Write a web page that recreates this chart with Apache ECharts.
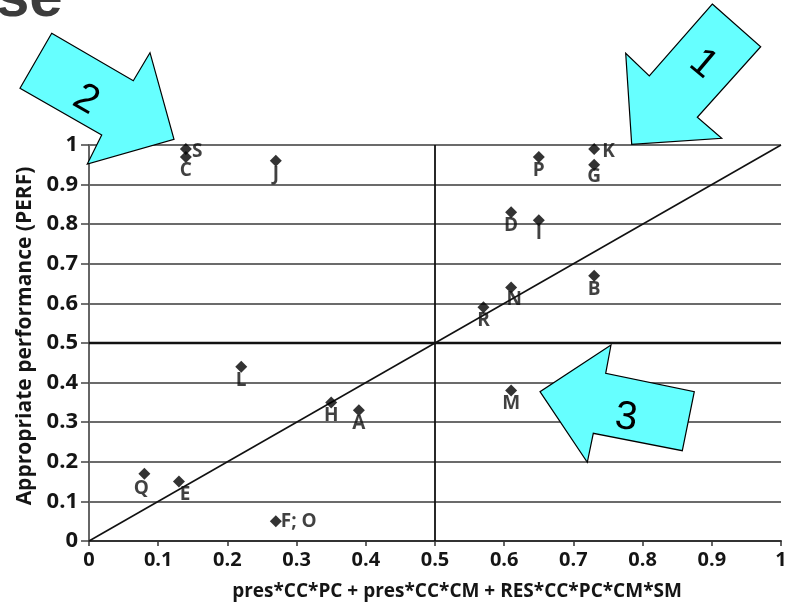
<!DOCTYPE html>
<html>
<head>
<meta charset="utf-8">
<script src="https://cdn.jsdelivr.net/npm/echarts@6/dist/echarts.min.js"></script>
<style>html,body{margin:0;padding:0;background:#fff}#c{width:785px;height:606px}</style>
</head>
<body>
<div id="c"></div>
<script>
// ---- data ----
const names = ['S','C','J','P','K','G','D','I','B','N','R','M','L','H','A','Q','E','F; O'];
const xVals = [0.14,0.14,0.27,0.65,0.73,0.73,0.61,0.65,0.73,0.61,0.57,0.61,0.22,0.35,0.39,0.08,0.13,0.27];
const yVals = [0.99,0.97,0.96,0.97,0.99,0.95,0.83,0.81,0.67,0.64,0.59,0.38,0.44,0.35,0.33,0.17,0.15,0.05];
const diagonal = [[0,0],[1,1]];
const xAxisName = 'pres*CC*PC + pres*CC*CM + RES*CC*PC*CM*SM';
const yAxisName = 'Appropriate performance (PERF)';
const arrowNumbers = ['1','2','3'];

// ---- label styling (not data) ----
const labelStyle = {
  'S': {position:'right', offset:[-2,3]},
  'K': {position:'right', offset:[0,3]},
  'F; O': {position:'right', offset:[-3,0]},
  'Q': {position:'bottom', offset:[-3,-3]},
  'E': {position:'bottom', offset:[6,-5]},
  'N': {position:'bottom', offset:[3,-5]},
  'C': {position:'bottom', offset:[0,-4]},
  'G': {position:'bottom', offset:[0,-6]}
};

const points = names.map((n,i)=>{
  const ls = labelStyle[n] || {position:'bottom', offset:[0,-4]};
  return {name:n, value:[xVals[i], yVals[i]], label:{position:ls.position, offset:ls.offset}};
});

const chart = echarts.init(document.getElementById('c'));
const FONT = 'Open Sans';
const cyan = '#66FFFF';

chart.setOption({
  animation:false,
  backgroundColor:'#fff',
  grid:{left:89, right:4, top:145, bottom:65, outerBoundsMode:'none', containLabel:false},
  xAxis:{
    type:'value', min:0, max:1, interval:0.1,
    name:xAxisName, nameLocation:'middle', nameGap:41,
    nameTextStyle:{fontFamily:FONT, fontWeight:'bold', fontSize:19, color:'#151515', padding:[0,0,0,44]},
    axisLine:{lineStyle:{color:'#333', width:2}},
    axisTick:{show:true, length:5, lineStyle:{color:'#333', width:1.5}},
    axisLabel:{show:true, fontFamily:FONT, fontWeight:'bold', fontSize:20, color:'#151515', margin:9},
    splitLine:{show:false}
  },
  yAxis:{
    type:'value', min:0, max:1, interval:0.1,
    name:yAxisName, nameLocation:'middle', nameGap:41,
    nameTextStyle:{fontFamily:FONT, fontWeight:'bold', fontSize:21, color:'#151515', padding:[0,0,0,14]},
    axisLine:{show:true, lineStyle:{color:'#666', width:2}},
    axisTick:{show:true, length:8, lineStyle:{color:'#444', width:1.5}},
    axisLabel:{show:true, fontFamily:FONT, fontWeight:'bold', fontSize:22, color:'#151515', margin:11},
    splitLine:{show:true, lineStyle:{color:'#3a3a3a', width:1.6}}
  },
  series:[
    {
      type:'line', data:diagonal, symbol:'none', silent:true,
      lineStyle:{color:'#111', width:1.6},
      markLine:{
        silent:true, symbol:['none','none'], label:{show:false},
        data:[
          {xAxis:0.5, lineStyle:{color:'#111', width:1.8, type:'solid'}},
          {yAxis:0.5, lineStyle:{color:'#111', width:2.4, type:'solid'}}
        ]
      },
      z:3
    },
    {
      type:'scatter', data:points, symbol:'diamond', symbolSize:12,
      itemStyle:{color:'#000'},
      label:{show:true, formatter:'{b}', fontFamily:FONT, fontWeight:'bold', fontSize:19, color:'#111', distance:2},
      z:5
    }
  ],
  graphic:[
    {type:'text', x:-4, y:29, z:10, style:{text:'se', font:'bold 60px Arial', fill:'#3c3c3c', align:'left', verticalAlign:'bottom'}},
    // arrow 2
    {type:'polygon', z:20, shape:{points:[[51.7,33.3],[133.3,80.7],[150,52.7],[174,139.3],[87.3,164],[101.7,135],[20,88.3]]},
      style:{fill:cyan, stroke:'#000', lineWidth:1.2}},
    {type:'text', z:21, x:86, y:100, rotation:-0.52, style:{text:arrowNumbers[1], font:'40px Arial', fill:'#000', align:'center', verticalAlign:'middle'}},
    // arrow 1
    {type:'polygon', z:20, shape:{points:[[712.3,4],[760.7,46.7],[697.3,117.3],[721.7,138.3],[631.7,144.3],[625.7,53.3],[649.3,76]]},
      style:{fill:cyan, stroke:'#000', lineWidth:1.2}},
    {type:'text', z:21, x:703, y:64, rotation:-0.7, style:{text:arrowNumbers[0], font:'40px Arial', fill:'#000', align:'center', verticalAlign:'middle'}},
    // arrow 3
    {type:'polygon', z:20, shape:{points:[[611,345],[605.7,373.3],[694.3,391.7],[682.3,450.7],[593.3,433.3],[587.3,462.3],[540,391.7]]},
      style:{fill:cyan, stroke:'#000', lineWidth:1.2}},
    {type:'text', z:21, x:626, y:418, rotation:-0.12, style:{text:arrowNumbers[2], font:'40px Arial', fill:'#000', align:'center', verticalAlign:'middle'}}
  ]
});
</script>
</body>
</html>
